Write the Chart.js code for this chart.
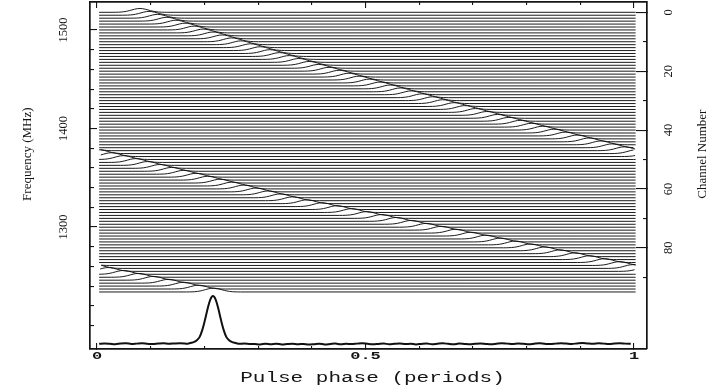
<!DOCTYPE html>
<html><head><meta charset="utf-8">
<script src="https://cdn.jsdelivr.net/npm/chart.js@4.4.1/dist/chart.umd.min.js"></script>
<style>html,body{margin:0;padding:0;background:#fff;}canvas{display:block;}</style>
</head><body>
<canvas id="c" width="723" height="390"></canvas>
<script>
// ---------------- data ----------------
// pulse phase (periods, wrapped) of the pulse in each of the 96 channels (channel 0 = top, highest frequency)
const pulsePhase = [
 0.080,0.097,0.113,0.130,0.147,0.164,0.181,0.198,0.216,0.233,
 0.251,0.268,0.286,0.304,0.322,0.340,0.358,0.376,0.395,0.413,
 0.432,0.451,0.469,0.488,0.507,0.527,0.546,0.565,0.585,0.605,
 0.625,0.644,0.665,0.685,0.705,0.726,0.746,0.767,0.788,0.809,
 0.830,0.851,0.872,0.894,0.916,0.938,0.959,0.982,0.004,0.027,
 0.049,0.072,0.094,0.117,0.139,0.161,0.184,0.206,0.229,0.251,
 0.273,0.296,0.318,0.341,0.364,0.391,0.419,0.447,0.474,0.502,
 0.530,0.557,0.585,0.613,0.641,0.668,0.696,0.724,0.751,0.779,
 0.807,0.834,0.862,0.890,0.917,0.945,0.973,0.998,0.021,0.049,
 0.077,0.105,0.133,0.161,0.189,0.217];
// pulse shape seen in a single channel (offset from peak, periods -> relative height)
const traceOffsets = [-0.05,-0.045,-0.04,-0.035,-0.03,-0.025,-0.02,-0.015,-0.01,-0.005,0,0.005,0.01,0.015,0.02,0.025,0.03,0.035,0.04,0.045,0.05];
const traceShape   = [0.005,0.013,0.033,0.073,0.146,0.263,0.425,0.618,0.808,0.948,1,0.948,0.808,0.618,0.425,0.263,0.146,0.073,0.033,0.013,0.005];
const pulseHeight = 1.3;          // in channel spacings
const traceStart = 0.004, traceEnd = 1.003;
// summed (integrated) profile at the bottom
const profilePeak = 0.216;
const profileOffsets = traceOffsets;
const profileShape = [0.005,0.012,0.025,0.045,0.08,0.144,0.29,0.498,0.734,0.926,1,0.926,0.734,0.498,0.29,0.144,0.08,0.045,0.025,0.012,0.005];
const profileStart = 0.004, profileStep = 0.01;
const profileBaseline = [
 0.004,0.012,0.006,-0.004,0.010,0.016,0.002,0.008,0.014,0.004,
 -0.002,0.010,0.018,0.006,0.012,0.016,0.012,0.010,0.008,0.006,
 0.006,0.004,0.004,0.002,0.002,0.000,0.004,0.010,0.002,0.000,
 -0.008,0.004,-0.004,0.006,-0.010,-0.002,0.004,-0.006,0.002,-0.012,
 -0.004,0.006,-0.008,0.000,0.010,-0.006,0.004,-0.002,0.008,0.018,
 0.004,-0.006,0.002,0.010,-0.004,0.006,0.012,-0.002,0.004,-0.008,
 0.002,0.010,-0.004,0.006,0.014,0.004,-0.004,0.008,0.002,-0.006,
 0.004,0.012,0.002,-0.006,0.006,0.016,0.008,0.000,0.010,0.004,
 -0.004,0.006,0.014,0.004,-0.002,0.008,0.018,0.010,0.002,0.012,
 0.020,0.010,0.004,0.014,0.008,0.002,0.012,0.016,0.008,0.004];
// axes
const phaseMajorTicks = [0, 0.5, 1];
const phaseMinorTicks = [0.1,0.2,0.3,0.4,0.6,0.7,0.8,0.9];
const freqMajorTicks = [1500, 1400, 1300];
const freqMinorTicks = [1480,1460,1440,1420,1380,1360,1340,1320,1280,1260,1240,1220,1200];
const chanMajorTicks = [0, 20, 40, 60, 80];
const chanMinorTicks = [10, 30, 50, 70, 90];
const xTitle = 'Pulse phase (periods)';
const freqTitle = 'Frequency (MHz)';
const chanTitle = 'Channel Number';

// ---------------- scale ranges (frame geometry) ----------------
const phaseMin = -0.0130, phaseMax = 1.0242;
const chanMin = -3.50, chanMax = 114.37;
const freqMin = 1176.1, freqMax = 1528.4;
const profMin = -0.104, profMax = 7.125;

// ---------------- build datasets ----------------
function channelTrace(c) {
  const p = pulsePhase[c];
  const pts = [];
  [-1, 0, 1].forEach(k => traceOffsets.forEach((o, i) => {
    const x = p + k + o;
    if (x >= traceStart && x <= traceEnd) pts.push({x, y: c - pulseHeight * traceShape[i], v: traceShape[i]});
  }));
  pts.sort((a, b) => a.x - b.x);
  if (!pts.length || (pts[0].v <= 0.02 && pts[0].x > traceStart)) pts.unshift({x: traceStart, y: c, v: 0});
  if (pts[pts.length - 1].v <= 0.02 && pts[pts.length - 1].x < traceEnd) pts.push({x: traceEnd, y: c, v: 0});
  return pts;
}
function profilePoints() {
  const pts = [];
  profileBaseline.forEach((v, i) => {
    const x = profileStart + i * profileStep;
    if (Math.abs(x - profilePeak) > 0.05) pts.push({x, y: v});
  });
  profileOffsets.forEach((o, i) => pts.push({x: profilePeak + o, y: profileShape[i]}));
  pts.sort((a, b) => a.x - b.x);
  return pts;
}
const datasets = pulsePhase.map((p, c) => ({
  data: channelTrace(c), xAxisID: 'x', yAxisID: 'ch',
  borderColor: 'rgba(15,15,15,0.95)', borderWidth: 1.0, pointRadius: 0, tension: 0, fill: false
}));
datasets.push({
  data: profilePoints(), xAxisID: 'x', yAxisID: 'prof',
  borderColor: '#111', borderWidth: 2.0, pointRadius: 0, tension: 0.3, fill: false
});

// ---------------- axes helpers ----------------
const INK = '#151515';
const tickSet = list => s => { s.ticks = list.map(v => ({value: v})); };
function tickAxis(opts) {
  return Object.assign({
    type: 'linear',
    grid: {display: true, drawOnChartArea: false, drawTicks: true, tickLength: opts.len, color: INK, lineWidth: 1.1},
    border: {display: opts.border !== false, color: INK, width: 1.7},
    ticks: {display: true, callback: () => '', autoSkip: false, padding: 0, font: {size: 1}},
    afterBuildTicks: tickSet(opts.list),
    afterFit: s => {
      if (s.isHorizontal()) s.height = opts.size; else s.width = opts.size;
      s.paddingTop = 0; s.paddingBottom = 0; s.paddingLeft = 0; s.paddingRight = 0;
    }
  }, opts.extra);
}
const serif = {family: '"Liberation Serif", "Times New Roman", serif', size: 12.5};

const xLabelStretch = 1.7, xTitleStretch = 1.5;
const stretchPlugin = {
  id: 'stretchX',
  beforeDraw(chart) {
    const s = chart.scales.x;
    if (s._stretched) return;
    s._stretched = true;
    const ctx = chart.ctx;
    s.drawLabels = function (area) {
      const items = this.getLabelItems(area);
      ctx.save();
      for (const it of items) {
        const [x, y] = it.options.translation;
        ctx.save();
        ctx.translate(x, y);
        ctx.scale(xLabelStretch, 1);
        ctx.font = it.font.string;
        ctx.fillStyle = it.options.color;
        ctx.textAlign = 'center';
        ctx.textBaseline = 'middle';
        ctx.fillText(it.label, 0, it.textOffset);
        ctx.restore();
      }
      ctx.restore();
    };
    const origTitle = s.drawTitle;
    s.drawTitle = function () {
      const cx = (this.left + this.right) / 2 + 4;
      ctx.save();
      ctx.translate(cx, 0);
      ctx.scale(xTitleStretch, 1);
      ctx.translate(-(this.left + this.right) / 2, 0);
      origTitle.call(this);
      ctx.restore();
    };
  },
  afterDraw(chart) {
    const ctx = chart.ctx;
    const ch = chart.scales.ch, fq = chart.scales.freq;
    const midY = ch.getPixelForValue((0 + pulsePhase.length - 1) / 2) + 2;
    ctx.save();
    ctx.font = '13px "Liberation Serif", serif';
    ctx.fillStyle = INK;
    ctx.textAlign = 'center';
    ctx.textBaseline = 'middle';
    ctx.save(); ctx.translate(fq.left + 28, midY); ctx.rotate(-Math.PI / 2); ctx.fillText(freqTitle, 0, 0); ctx.restore();
    ctx.save(); ctx.translate(ch.right - 20, midY); ctx.rotate(-Math.PI / 2); ctx.fillText(chanTitle, 0, 0); ctx.restore();
    ctx.restore();
  }
};

new Chart(document.getElementById('c'), {
  type: 'line',
  data: {datasets},
  plugins: [stretchPlugin],
  options: {
    responsive: false, animation: false, events: [], normalized: true,
    devicePixelRatio: 1,
    layout: {padding: {top: 2, left: 0, right: 0, bottom: 0}, autoPadding: false},
    plugins: {legend: {display: false}, tooltip: {enabled: false}, title: {display: false}},
    scales: {
      x: tickAxis({len: -6, list: phaseMajorTicks, size: 41, extra: {
        position: 'bottom', weight: 1, min: phaseMin, max: phaseMax,
        ticks: {display: true, autoSkip: false, maxRotation: 0, minRotation: 0, padding: 7.5, color: INK,
                font: {family: '"Liberation Mono", monospace', size: 10, weight: 'bold'},
                callback: v => String(v)},
        title: {display: true, text: xTitle, color: INK, padding: {top: 0, bottom: 3},
                font: {family: '"Liberation Mono", monospace', size: 14}}
      }}),
      xMinor: tickAxis({len: -3, list: phaseMinorTicks, size: 0, border: false, extra: {
        position: 'bottom', weight: 0, min: phaseMin, max: phaseMax}}),
      xTop: tickAxis({len: -6, list: phaseMajorTicks, size: 0, extra: {
        position: 'top', weight: 1, min: phaseMin, max: phaseMax}}),
      xTopMinor: tickAxis({len: -3, list: phaseMinorTicks, size: 0, border: false, extra: {
        position: 'top', weight: 0, min: phaseMin, max: phaseMax}}),
      freq: tickAxis({len: -7, list: freqMajorTicks, size: 90, extra: {
        position: 'left', axis: 'y', weight: 1, min: freqMin, max: freqMax,
        ticks: {display: true, autoSkip: false, minRotation: 90, maxRotation: 90, crossAlign: 'center',
                padding: 21, color: INK, font: serif, callback: v => String(v)}
      }}),
      freqMinor: tickAxis({len: -4, list: freqMinorTicks, size: 0, border: false, extra: {
        position: 'left', axis: 'y', weight: 0, min: freqMin, max: freqMax}}),
      prof: {type: 'linear', axis: 'y', position: 'left', display: false, min: profMin, max: profMax},
      ch: tickAxis({len: -11, list: chanMajorTicks, size: 76, extra: {
        position: 'right', axis: 'y', weight: 1, min: chanMin, max: chanMax, reverse: true,
        ticks: {display: true, autoSkip: false, minRotation: 90, maxRotation: 90, crossAlign: 'center',
                padding: 26, color: INK, font: serif, callback: v => String(v)}
      }}),
      chMinor: tickAxis({len: -4, list: chanMinorTicks, size: 0, border: false, extra: {
        position: 'right', axis: 'y', weight: 0, min: chanMin, max: chanMax, reverse: true}})
    }
  }
});
</script>
</body></html>
